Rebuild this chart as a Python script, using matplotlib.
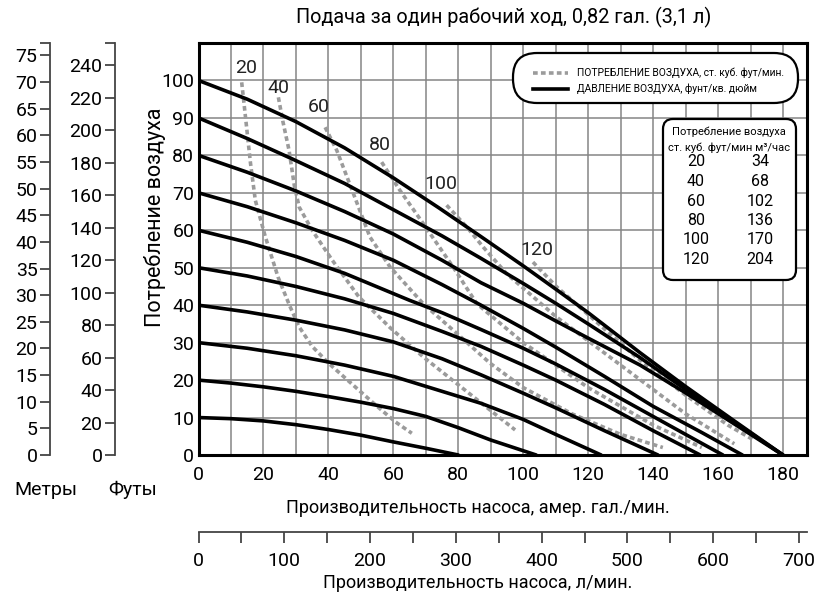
"""Pump performance chart: flow vs head, air pressure and air consumption curves."""
import matplotlib.pyplot as plt
import matplotlib.transforms as mtransforms
from matplotlib.lines import Line2D
from matplotlib.patches import FancyBboxPatch

W, H = 819, 600
FONT = ["Roboto", "DejaVu Sans"]
NARROW = ["Liberation Sans Narrow", "Roboto", "DejaVu Sans"]
plt.rcParams["font.family"] = FONT

# ---- data ----------------------------------------------------------------
# air pressure curves, psi: (gpm, psi head)
psi_10 = [(0, 10), (10, 9.7), (20, 9.1), (30, 8.1), (40, 6.8), (50, 5.3), (60, 3.5),
          (70, 1.8), (80, 0)]
psi_20 = [(0, 20), (10, 19.2), (20, 18.2), (30, 17), (40, 15.6), (50, 14.1), (60, 12.4),
          (70, 10.3), (80, 7.3), (90, 4), (104, 0)]
psi_30 = [(0, 30), (15, 28.5), (30, 26.5), (45, 24), (60, 21), (75, 17), (87, 13.8),
          (100, 9.5), (110, 5.5), (124, 0)]
psi_40 = [(0, 40), (15, 38.2), (30, 36), (45, 33.4), (60, 30.2), (75, 25.7), (87, 21.4),
          (100, 16.5), (110, 12.6), (125, 6.5), (141.5, 0)]
psi_50 = [(0, 50), (15, 47.8), (30, 45), (45, 41.7), (60, 37.8), (75, 33), (87, 29),
          (100, 24), (110, 20), (125, 13.5), (140, 6.5), (154.5, 0)]
psi_60 = [(0, 60), (15, 56.8), (30, 53), (45, 48.5), (65, 41.3), (75, 38), (87, 33.5),
          (100, 28.5), (110, 24.3), (125, 17.5), (140, 10.3), (150, 5.5), (161.5, 0)]
psi_70 = [(0, 70), (15, 66.3), (30, 62), (45, 57.3), (60, 52), (75, 45.5), (87, 40),
          (100, 33.8), (110, 28.8), (125, 21), (140, 13), (155, 6), (167.5, 0)]
psi_80 = [(0, 80), (15, 75.5), (30, 70.5), (45, 65), (60, 59), (75, 52), (87, 46),
          (100, 40.5), (110, 35.8), (120, 31.2), (136, 24), (150, 16.6), (165, 8.3),
          (180, 0)]
psi_90 = [(0, 90), (15, 84.5), (29, 79), (45, 72.5), (60, 65.5), (75, 58.5), (87, 52.5),
          (100, 45.8), (110, 40.5), (120, 35), (136, 26), (150, 17.5), (165, 8.8), (180, 0)]
psi_100 = [(0, 100), (15, 95), (30, 89), (45, 82), (60, 74), (74, 66), (87, 58.3),
           (100, 50.5), (110, 44.3), (120, 38), (136, 27.3), (150, 18.3), (165, 9.1),
           (180, 0)]
pressure_curves = [psi_10, psi_20, psi_30, psi_40, psi_50,
                   psi_60, psi_70, psi_80, psi_90, psi_100]

# air consumption curves, scfm
scfm_20 = [(13.3, 99.5), (14.5, 90), (16, 78), (17.5, 68), (20.5, 58.5), (24.5, 47.5),
           (28, 40), (31, 34.2), (35, 29), (40.2, 24.4), (49.4, 17.3), (55, 13),
           (60.7, 8.8), (65.7, 5.8)]
scfm_40 = [(24.6, 95.5), (26, 89), (27.9, 81.3), (29.5, 72), (31, 66.2), (35, 60),
           (41.2, 52), (49.4, 42.2), (59, 34), (69.2, 26.2), (79.5, 19.1),
           (89.8, 12), (97.5, 6.7)]
scfm_60 = [(39, 87.5), (42.6, 81.3), (47.7, 69.8), (52.8, 58.2), (59, 50.2),
           (69.2, 40.4), (79.5, 32.5), (89.8, 24.5), (100, 18), (115, 11),
           (130, 5.5), (143, 2)]
scfm_80 = [(56.4, 78.2), (62, 70.7), (69.2, 61.8), (78.4, 50.2), (85.7, 40.4),
           (100, 30), (120, 18), (140, 8), (155, 2)]
scfm_100 = [(76.4, 66.7), (82.6, 60.9), (87.7, 55.5), (94.9, 48.4), (110, 37),
            (130, 24), (150, 11), (165, 3)]
scfm_120 = [(103, 51.5), (110.3, 44.9), (119.6, 37.8), (135, 26), (150, 16),
            (163, 8), (171, 4)]
air_curves = [scfm_20, scfm_40, scfm_60, scfm_80, scfm_100, scfm_120]
air_labels = ["20", "40", "60", "80", "100", "120"]
air_label_pos = [(14.6, 103.2), (24.5, 98.1), (37.1, 92.8), (55.9, 82.7),
                 (74.7, 72.3), (104.3, 54.7)]

table_scfm = ["20", "40", "60", "80", "100", "120"]
table_m3h = ["34", "68", "102", "136", "170", "204"]

X_MAX, Y_MAX = 187.4, 110
PSI_TO_M, PSI_TO_FT, GPM_TO_LPM = 0.70307, 2.3067, 3.7854

# ---- layout helpers (pixels measured from the top-left corner) -----------
fig = plt.figure(figsize=(W / 100, H / 100), dpi=100)
PX = mtransforms.Affine2D().scale(1, -1).translate(0, H)


def rect(left, top, right, bottom):
    return [left / W, 1 - bottom / H, (right - left) / W, (bottom - top) / H]


L, T, R, B = 198.5, 43, 807, 455

# ---- main axes ------------------------------------------------------------
ax = fig.add_axes(rect(L, T, R, B))
ax.set_xlim(0, X_MAX)
ax.set_ylim(0, Y_MAX)
ax.set_xticks(range(0, 181, 20))
ax.set_xticks(range(10, 181, 20), minor=True)
ax.set_yticks(range(0, 101, 10))
ax.grid(True, which="both", color="#858585", lw=1.1)
ax.set_axisbelow(True)
ax.tick_params(which="both", length=0, labelsize=14)
ax.tick_params(axis="x", pad=8)
ax.tick_params(axis="y", pad=3)
for s in ax.spines.values():
    s.set_linewidth(2.2)

for pts in air_curves:
    xs, ys = zip(*pts)
    ax.plot(xs, ys, color="#9b9b9b", lw=2.6, ls=(0, (1.3, 0.9)), zorder=2)
for pts in pressure_curves:
    xs, ys = zip(*pts)
    ax.plot(xs, ys, color="black", lw=2.6, solid_capstyle="round",
            solid_joinstyle="round", zorder=3)
for lab, (x, y) in zip(air_labels, air_label_pos):
    ax.text(x, y, lab, fontsize=14, ha="center", va="center", color="#222222")

# ---- head scales on the left ---------------------------------------------
axm = fig.add_axes(rect(50, T, 50.5, B))
axm.set_ylim(0, Y_MAX * PSI_TO_M)
axm.set_yticks(list(range(0, 76, 5)) + [Y_MAX * PSI_TO_M],
               [str(v) for v in range(0, 76, 5)] + [""])
axf = fig.add_axes(rect(115, T, 115.5, B))
axf.set_ylim(0, Y_MAX * PSI_TO_FT)
axf.set_yticks(list(range(0, 241, 20)) + [Y_MAX * PSI_TO_FT],
               [str(v) for v in range(0, 241, 20)] + [""])
for a in (axm, axf):
    a.set_xticks([])
    for side in ("top", "right", "bottom"):
        a.spines[side].set_visible(False)
    a.spines["left"].set_color("#444444")
    a.spines["left"].set_linewidth(1.3)
    a.tick_params(axis="y", length=7, width=1.3, color="#444444", labelsize=14, pad=2)

# ---- litres per minute scale ----------------------------------------------
axl = fig.add_axes(rect(L, 531, R, 531.5))
axl.set_xlim(0, X_MAX * GPM_TO_LPM)
axl.set_xticks(range(0, 701, 100))
axl.set_xticks(range(50, 701, 100), minor=True)
axl.set_yticks([])
for side in ("top", "right", "left"):
    axl.spines[side].set_visible(False)
axl.spines["bottom"].set_color("#444444")
axl.spines["bottom"].set_linewidth(1.3)
axl.tick_params(axis="x", which="both", length=8, width=1.3, color="#444444",
                labelsize=14, pad=7)

# ---- texts ------------------------------------------------------------------
def ptext(x, y, s, **kw):
    fig.text(x, y, s, transform=PX, **kw)


ptext(504, 17, "Подача за один рабочий ход, 0,82 гал. (3,1 л)", fontsize=14.3,
      ha="center", va="center")
ptext(155, 217, "Потребление воздуха", fontsize=15.5, rotation=90,
      ha="center", va="center")
ptext(478, 508, "Производительность насоса, амер. гал./мин.", fontsize=13,
      ha="center", va="center")
ptext(478, 583, "Производительность насоса, л/мин.", fontsize=13,
      ha="center", va="center")
ptext(46, 490, "Метры", fontsize=14, ha="center", va="center")
ptext(133, 490, "Футы", fontsize=14, ha="center", va="center")

# legend box
fig.add_artist(FancyBboxPatch((513, 53), 285, 50, transform=PX,
                              boxstyle="round,pad=0,rounding_size=24",
                              fc="white", ec="black", lw=1.6))
fig.add_artist(Line2D([533, 568], [73, 73], transform=PX, color="#9b9b9b",
                      lw=2.6, ls=(0, (1.3, 0.9))))
fig.add_artist(Line2D([533, 568], [89, 89], transform=PX, color="black", lw=2.6))
ptext(577, 73, "ПОТРЕБЛЕНИЕ ВОЗДУХА, ст. куб. фут/мин.", fontsize=7.4,
      family=NARROW, va="center")
ptext(577, 89, "ДАВЛЕНИЕ ВОЗДУХА, фунт/кв. дюйм", fontsize=7.4,
      family=NARROW, va="center")

# conversion table
fig.add_artist(FancyBboxPatch((663, 119), 133, 161, transform=PX,
                              boxstyle="round,pad=0,rounding_size=10",
                              fc="white", ec="black", lw=1.6))
ptext(729, 132, "Потребление воздуха", fontsize=8, family=NARROW,
      ha="center", va="center")
ptext(729, 148, "ст. куб. фут/мин м³/час", fontsize=8, family=NARROW,
      ha="center", va="center")
for i, (a, b) in enumerate(zip(table_scfm, table_m3h)):
    y = 162 + i * 19.5
    ptext(696, y, a, fontsize=11.5, ha="center", va="center")
    ptext(760, y, b, fontsize=11.5, ha="center", va="center")

fig.savefig("out.png", dpi=100)
